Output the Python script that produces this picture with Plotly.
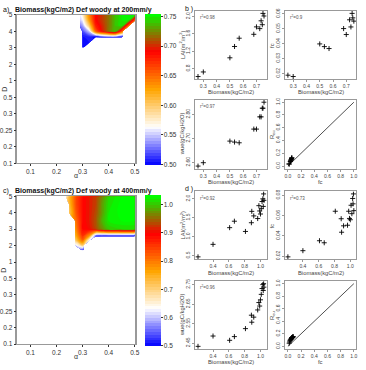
import plotly.graph_objects as go

W, H = 366, 370
N = None

# ---------------- data ----------------
D_labels = ["0.1", "0.2", "0.25", "0.3", "0.5", "1", "2", "3", "4", "5"]
D_pos = list(range(10))
alpha_ticks = [0.1, 0.2, 0.3, 0.4, 0.5]

# panel a : biomass grid (200 mm/y); rows = D positions, cols = alpha
alpha_a = [0.29, 0.30, 0.325, 0.35, 0.375, 0.40, 0.425, 0.45, 0.475, 0.50]
Dpos_a = [7.0, 7.33, 7.67, 8.0, 8.33, 8.67, 9.0]
bio_a = [
    [N, 0.50, N, N, N, N, N, N, N, N],
    [N, 0.50, 0.505, N, N, N, N, N, N, N],
    [N, 0.505, 0.51, 0.50, 0.52, 0.53, 0.53, 0.51, N, N],
    [N, 0.52, 0.55, 0.655, 0.695, 0.72, 0.74, 0.66, N, N],
    [0.53, 0.54, 0.60, 0.68, 0.70, 0.72, 0.74, 0.75, 0.65, N],
    [0.55, 0.56, 0.63, 0.69, 0.705, 0.72, 0.74, 0.75, 0.752, 0.66],
    [0.56, 0.575, 0.64, 0.69, 0.705, 0.72, 0.74, 0.75, 0.755, 0.755],
]

# panel c : biomass grid (400 mm/y)
alpha_c = [0.236, 0.25, 0.275, 0.30, 0.325, 0.35, 0.375, 0.40, 0.45, 0.50]
Dpos_c = [5.72, 6.0, 6.33, 6.6, 7.0, 7.5, 8.0, 8.5, 9.0]
bio_c = [
    [N, N, N, 0.52, N, N, N, N, N, N],
    [N, N, 0.62, 0.70, N, N, N, N, N, N],
    [N, N, 0.72, 0.82, 0.64, N, N, N, N, N],
    [N, N, 0.76, 0.86, 0.78, 0.55, 0.52, 0.52, 0.52, 0.52],
    [N, N, 0.79, 0.89, 0.90, 0.93, 0.97, 1.00, 1.01, 1.01],
    [N, N, 0.81, 0.89, 0.91, 0.94, 0.99, 1.02, 1.03, 1.03],
    [N, 0.72, 0.83, 0.89, 0.91, 0.935, 0.98, 1.02, 1.035, 1.035],
    [N, 0.74, 0.84, 0.89, 0.91, 0.93, 0.98, 1.015, 1.035, 1.035],
    [0.66, 0.75, 0.84, 0.89, 0.91, 0.93, 0.97, 1.01, 1.03, 1.035],
]

# panel b scatter data
bio_b = [0.26, 0.30, 0.50, 0.535, 0.57, 0.68, 0.70, 0.725, 0.735, 0.744, 0.749, 0.757]
lai_b = [0.62, 0.725, 1.05, 1.31, 1.50, 1.59, 1.76, 1.72, 1.90, 1.81, 2.07, 2.01]
fc_b = [0.0189, 0.0180, 0.0399, 0.0381, 0.0368, 0.0502, 0.0462, 0.0561, 0.0513, 0.0604, 0.0574, 0.0552]
wue_b = [2.585, 2.599, 2.689, 2.685, 2.682, 2.739, 2.739, 2.790, 2.790, 2.826, 2.826, 2.851]
reu_b = [0.03, 0.035, 0.08, 0.075, 0.07, 0.10, 0.09, 0.12, 0.105, 0.13, 0.125, 0.12]
r2_b = ["0.98", "0.9", "0.97"]

# panel d scatter data
bio_d = [0.21, 0.40, 0.61, 0.67, 0.81, 0.885, 0.89, 0.915, 0.965, 0.98, 0.99, 1.0, 1.01, 1.02, 1.03, 1.035, 1.04, 1.045]
lai_d = [0.47, 0.80, 1.24, 1.41, 1.14, 1.37, 1.67, 1.55, 1.48, 1.82, 1.68, 1.60, 1.74, 1.93, 2.00, 1.80, 2.13, 1.96]
fc_d = [0.0194, 0.0255, 0.0353, 0.0333, 0.0644, 0.057, 0.0437, 0.050, 0.0506, 0.0644, 0.0573, 0.0560,
        0.0703, 0.0620, 0.0770, 0.0717, 0.0815, 0.0650]
wue_d = [2.433, 2.486, 2.464, 2.483, 2.524, 2.593, 2.557, 2.583, 2.620, 2.658, 2.640, 2.672,
         2.700, 2.730, 2.750, 2.720, 2.755, 2.737]
reu_d = [0.05, 0.07, 0.10, 0.09, 0.14, 0.13, 0.11, 0.12, 0.12, 0.14, 0.13, 0.13, 0.15, 0.14, 0.15, 0.145, 0.155, 0.14]
r2_d = ["0.92", "0.73", "0.96"]

one_to_one = [0, 1]

# ---------------- style ----------------
FONT = "Liberation Sans, Arial, sans-serif"
TXT = "#333333"
BOX = "#999999"
cscale = [[0.0, "#0000ff"], [0.25, "#ffffff"], [0.5, "#ffa500"], [0.75, "#ff0000"], [1.0, "#00ff00"]]


def xdom(a, b):
    return [a / W, b / W]


def ydom(top, bottom):
    return [1 - bottom / H, 1 - top / H]


def pad(vals, f=0.04):
    lo, hi = min(vals), max(vals)
    r = hi - lo
    return [lo - f * r, hi + f * r]


fig = go.Figure()
layout = dict(
    width=W, height=H, margin=dict(l=0, r=0, t=0, b=0),
    paper_bgcolor="white", plot_bgcolor="white", showlegend=False,
    font=dict(family=FONT, color=TXT, size=6),
)
annotations = []


def ann(text, x, y, size=6, xanchor="center", yanchor="middle", angle=0, bold=False, color=TXT):
    annotations.append(dict(
        text=("<b>%s</b>" % text) if bold else text, x=x / W, y=1 - y / H, xref="paper", yref="paper",
        showarrow=False, xanchor=xanchor, yanchor=yanchor, textangle=angle,
        font=dict(size=size, family=FONT, color=color)))


# ---------------- contour panels ----------------
contour_specs = [
    ("", alpha_a, Dpos_a, bio_a, 0.5, 0.755, 0.005, 11, 162.3, [0.5, 0.55, 0.6, 0.65, 0.7, 0.75], ".2f",
     "Biomass(kgC/m2) Def woody at 200mm/y", "a)"),
    ("2", alpha_c, Dpos_c, bio_c, 0.5, 1.035, 0.01, 196, 346.7, [0.5, 0.6, 0.7, 0.8, 0.9, 1.0], ".1f",
     "Biomass(kgC/m2) Def woody at 400mm/y", "c)"),
]
for sfx, xs, ys, zs, zmin, zmax, step, top, bot, cticks, cfmt, title, lab in contour_specs:
    fig.add_trace(go.Contour(
        x=xs, y=ys, z=zs, xaxis="x" + sfx, yaxis="y" + sfx,
        colorscale=cscale, zmin=zmin, zmax=zmax, zauto=False,
        autocontour=False, connectgaps=False,
        contours=dict(start=zmin, end=zmax, size=step, coloring="fill", showlines=False),
        line=dict(width=0), hoverinfo="skip",
        colorbar=dict(x=146.5 / W, xanchor="left", y=1 - (top + bot) / 2 / H, yanchor="middle",
                      len=bot - top, lenmode="pixels", thickness=16, thicknessmode="pixels",
                      xpad=0, ypad=0, outlinewidth=0, ticks="outside", ticklen=2, tickcolor=TXT,
                      tickvals=cticks, tickformat=cfmt, tickfont=dict(size=6.5, color=TXT, family=FONT)),
    ))
    layout["xaxis" + sfx] = dict(domain=xdom(16.7, 136), range=[0.05, 0.5], anchor="y" + sfx,
                                 tickvals=alpha_ticks, ticks="outside", ticklen=2, tickcolor=TXT,
                                 tickfont=dict(size=6.5), showline=True, mirror=True, linecolor=BOX,
                                 linewidth=1, showgrid=False, zeroline=False)
    layout["yaxis" + sfx] = dict(domain=ydom(top, bot), range=[0, 9], anchor="x" + sfx,
                                 tickvals=D_pos, ticktext=D_labels, ticks="outside", ticklen=2, tickcolor=TXT,
                                 tickfont=dict(size=6.5), showline=True, mirror=True, linecolor=BOX,
                                 linewidth=1.5, showgrid=False, zeroline=False)
    ann(title, 12.7, top - 5.3, size=7, xanchor="left", bold=True, color="#111111")
    ann(lab, 0, top - 5.3, size=7, xanchor="left", color="#111111")
    ann("α", 76, bot + 13, size=7)
    ann("D", 2.7, (top + bot) / 2, size=7, angle=-90)

# ---------------- scatter panels ----------------
colL = (197.6, 270.1)
colR = (289.0, 361.4)
rows_b = [(7.0, 76.5), (97.5, 167.8)]
rows_d = [(191.0, 260.3), (282.5, 351.5)]

scatter_specs = []
for rows, bio, lai, fc, wue, reu, r2, lab, xt_b, xt_lai_ticks, fc_ticks, wue_ticks in [
    (rows_b, bio_b, lai_b, fc_b, wue_b, reu_b, r2_b, "b )", [0.3, 0.4, 0.5, 0.6, 0.7],
     [0.8, 1.2, 1.6, 2.0], [0.02, 0.03, 0.04, 0.05, 0.06], [2.60, 2.70, 2.80]),
    (rows_d, bio_d, lai_d, fc_d, wue_d, reu_d, r2_d, "d )", [0.4, 0.6, 0.8, 1.0],
     [0.5, 1.0, 1.5, 2.0], [0.02, 0.04, 0.06, 0.08], [2.45, 2.55, 2.65, 2.75]),
]:
    scatter_specs += [
        (colL, rows[0], bio, lai, xt_b, xt_lai_ticks, ".1f", "Biomass(kgC/m2)", "LAI(m<sup>2</sup>/m<sup>2</sup>)", r2[0], False),
        (colR, rows[0], bio, fc, xt_b, fc_ticks, ".2f", "Biomass(kgC/m2)", "fc", r2[1], False),
        (colL, rows[1], bio, wue, xt_b, wue_ticks, ".2f", "Biomass(kgC/m2)", "wue(gC/kgH2O)", r2[2], False),
        (colR, rows[1], fc, reu, [0, 0.2, 0.4, 0.6, 0.8, 1.0], [0, 0.2, 0.4, 0.6, 0.8, 1.0], ".1f", "fc",
         "R<sub>eu</sub>", None, True),
    ]
    ann(lab, 185, rows[0][0] - 2, size=7, xanchor="left", color="#111111")

for i, (cx, ry, xv, yv, xticks, yticks, yfmt, xtitle, ytitle, r2, is11) in enumerate(scatter_specs):
    n = i + 3
    xa, ya = "x%d" % n, "y%d" % n
    if is11:
        xr, yr = [-0.04, 1.04], [-0.04, 1.04]
        fig.add_trace(go.Scatter(x=one_to_one, y=one_to_one, mode="lines", xaxis=xa, yaxis=ya,
                                 line=dict(color="#222222", width=0.8), hoverinfo="skip"))
    else:
        xr, yr = pad(xv), pad(yv)
    fig.add_trace(go.Scatter(x=xv, y=yv, mode="markers", xaxis=xa, yaxis=ya, hoverinfo="skip",
                             marker=dict(symbol="cross-thin", size=3.6, color="black",
                                         line=dict(width=0.9, color="black"))))
    layout["xaxis%d" % n] = dict(domain=xdom(*cx), range=xr, anchor=ya, tickvals=xticks, tickformat=".1f",
                                 ticks="outside", ticklen=2, tickcolor=BOX, tickfont=dict(size=5, color="#444"),
                                 showline=True, mirror=True, linecolor=BOX, linewidth=1, showgrid=False,
                                 zeroline=False)
    layout["yaxis%d" % n] = dict(domain=ydom(*ry), range=yr, anchor=xa, tickvals=yticks, tickformat=yfmt,
                                 tickangle=-90, ticks="outside", ticklen=2, tickcolor=BOX,
                                 tickfont=dict(size=5, color="#444"), showline=True, mirror=True,
                                 linecolor=BOX, linewidth=1, showgrid=False, zeroline=False)
    ann(xtitle, (cx[0] + cx[1]) / 2, ry[1] + 13.5, size=5.8, color="#444")
    ann(ytitle, cx[0] - 13.5, (ry[0] + ry[1]) / 2, size=5.8, angle=-90, color="#444")
    if r2 is not None:
        ann("r<sup>2</sup>=" + r2, cx[0] + 3, ry[0] + 6.3, size=4.5, xanchor="left", color="#555")

layout["annotations"] = annotations
fig.update_layout(**layout)
fig.write_html("out.html")
